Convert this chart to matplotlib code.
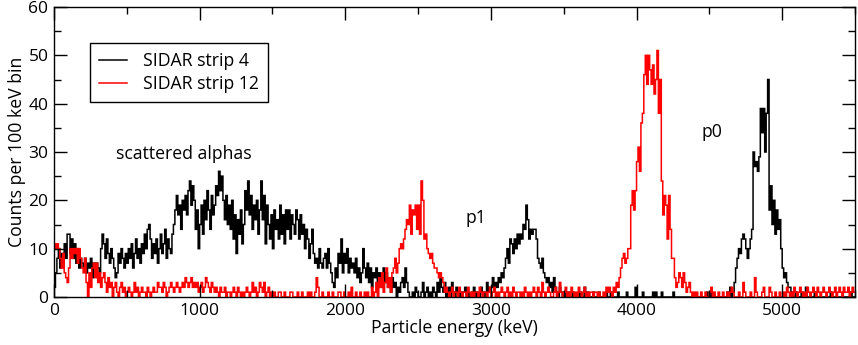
import numpy as np
import matplotlib
matplotlib.use("Agg")
import matplotlib.pyplot as plt
from matplotlib.ticker import MultipleLocator

plt.rcParams['font.family'] = ['Open Sans', 'DejaVu Sans']

bin_width_kev = 10
# SIDAR strip 4 counts, 10 keV bins from 0 to 5500 keV (one row = 100 keV)
strip4_counts = [
    2, 5, 8, 10, 6, 9, 7, 11, 8, 13,
    13, 9, 12, 8, 11, 7, 10, 6, 8, 7,
    6, 8, 5, 7, 6, 8, 4, 7, 6, 7,
    6, 5, 10, 13, 11, 8, 12, 9, 7, 10,
    8, 6, 4, 5, 9, 7, 10, 8, 6, 9,
    7, 10, 8, 11, 6, 9, 12, 8, 10, 7,
    11, 9, 13, 10, 14, 15, 12, 8, 11, 9,
    12, 7, 10, 13, 9, 11, 14, 8, 12, 10,
    9, 13, 15, 18, 21, 17, 19, 14, 20, 18,
    21, 17, 22, 24, 19, 23, 20, 14, 18, 10,
    15, 19, 13, 20, 16, 22, 18, 14, 21, 17,
    19, 23, 21, 26, 22, 25, 20, 16, 21, 15,
    19, 14, 20, 12, 17, 9, 16, 13, 18, 11,
    15, 22, 18, 24, 17, 21, 14, 19, 16, 20,
    13, 18, 24, 16, 21, 11, 19, 15, 12, 17,
    10, 18, 14, 16, 12, 19, 13, 17, 11, 18,
    14, 18, 12, 17, 15, 13, 18, 16, 12, 17,
    13, 15, 10, 14, 12, 8, 11, 14, 9, 7,
    8, 6, 10, 7, 6, 8, 9, 6, 10, 7,
    5, 3, 2, 6, 4, 9, 7, 12, 5, 9,
    7, 10, 5, 8, 6, 7, 5, 8, 4, 6,
    3, 5, 10, 6, 4, 7, 3, 6, 2, 5,
    4, 6, 3, 5, 2, 4, 6, 3, 5, 2,
    3, 1, 4, 2, 3, 0, 2, 1, 3, 4,
    2, 6, 3, 1, 0, 0, 1, 0, 2, 1,
    0, 0, 1, 3, 0, 1, 2, 0, 1, 0,
    2, 1, 0, 3, 1, 4, 2, 1, 3, 0,
    1, 2, 0, 3, 1, 0, 2, 1, 0, 1,
    0, 1, 2, 0, 1, 0, 0, 1, 2, 0,
    1, 0, 0, 2, 1, 0, 1, 3, 1, 2,
    2, 4, 1, 3, 2, 4, 3, 5, 4, 6,
    8, 10, 7, 12, 11, 9, 12, 10, 13, 11,
    13, 12, 15, 14, 19, 16, 12, 14, 13, 14,
    14, 12, 8, 7, 6, 8, 5, 4, 3, 4,
    2, 3, 1, 4, 2, 1, 0, 2, 1, 0,
    1, 0, 0, 1, 0, 0, 1, 0, 0, 0,
    0, 1, 0, 0, 2, 0, 1, 0, 0, 0,
    1, 0, 0, 0, 1, 0, 0, 0, 0, 1,
    0, 0, 1, 0, 0, 0, 0, 1, 0, 0,
    0, 0, 0, 1, 0, 0, 0, 0, 0, 2,
    0, 0, 0, 0, 1, 0, 0, 0, 0, 0,
    0, 1, 0, 1, 0, 0, 0, 1, 0, 0,
    0, 0, 0, 0, 0, 1, 0, 0, 0, 0,
    0, 0, 0, 0, 0, 0, 0, 0, 0, 0,
    0, 0, 0, 0, 0, 0, 0, 0, 1, 0,
    0, 1, 0, 0, 0, 0, 0, 0, 0, 0,
    0, 0, 1, 0, 2, 0, 1, 3, 6, 8,
    10, 9, 12, 13, 12, 10, 8, 10, 12, 14,
    30, 27, 28, 26, 29, 39, 34, 39, 30, 38,
    45, 18, 23, 15, 20, 13, 18, 14, 16, 10,
    6, 4, 5, 3, 2, 2, 1, 0, 0, 1,
    0, 0, 0, 1, 0, 0, 2, 0, 0, 0,
    0, 0, 1, 0, 0, 0, 0, 0, 0, 0,
    0, 0, 0, 1, 0, 0, 0, 0, 0, 0,
    0, 0, 0, 0, 0, 0, 0, 1, 0, 0,
]

# SIDAR strip 12 counts, same binning
strip12_counts = [
    11, 10, 11, 10, 8, 6, 9, 5, 4, 3,
    6, 10, 8, 10, 9, 10, 7, 10, 8, 6,
    5, 8, 3, 0, 5, 2, 6, 7, 4, 7,
    3, 5, 2, 4, 5, 3, 1, 4, 2, 3,
    0, 2, 3, 1, 0, 2, 3, 1, 2, 0,
    1, 2, 1, 0, 1, 3, 1, 2, 0, 1,
    2, 1, 1, 0, 2, 1, 0, 1, 2, 1,
    1, 3, 2, 2, 1, 3, 2, 0, 1, 2,
    3, 2, 1, 2, 3, 2, 1, 2, 3, 2,
    4, 3, 2, 3, 4, 2, 3, 2, 3, 1,
    2, 3, 1, 2, 4, 3, 2, 1, 3, 2,
    1, 2, 1, 0, 2, 1, 1, 2, 0, 1,
    1, 0, 1, 2, 1, 0, 2, 1, 0, 1,
    0, 1, 2, 1, 0, 1, 3, 1, 2, 0,
    1, 3, 2, 1, 3, 0, 1, 2, 0, 1,
    0, 1, 0, 0, 1, 1, 0, 0, 1, 0,
    0, 0, 1, 1, 0, 0, 0, 1, 0, 0,
    1, 0, 0, 0, 1, 0, 1, 0, 0, 1,
    4, 2, 0, 0, 1, 0, 0, 0, 1, 0,
    0, 1, 0, 0, 0, 1, 1, 0, 0, 1,
    0, 0, 1, 0, 2, 0, 0, 1, 0, 0,
    1, 0, 0, 1, 0, 1, 0, 0, 2, 0,
    1, 3, 0, 4, 2, 5, 1, 3, 6, 2,
    4, 1, 5, 6, 8, 5, 7, 10, 11, 10,
    12, 14, 16, 15, 19, 13, 18, 17, 19, 14,
    19, 13, 24, 20, 12, 13, 10, 9, 8, 9,
    7, 6, 6, 5, 4, 5, 4, 3, 1, 2,
    1, 0, 1, 2, 0, 1, 1, 0, 2, 1,
    0, 1, 1, 0, 2, 1, 0, 1, 0, 1,
    1, 0, 2, 1, 0, 1, 1, 0, 1, 2,
    0, 1, 2, 0, 1, 0, 1, 2, 1, 0,
    1, 2, 0, 1, 0, 2, 1, 0, 1, 1,
    0, 1, 0, 2, 1, 0, 1, 0, 1, 2,
    1, 0, 2, 1, 0, 3, 1, 0, 1, 2,
    1, 0, 0, 1, 2, 0, 1, 3, 1, 0,
    1, 2, 0, 1, 0, 2, 1, 0, 1, 0,
    2, 1, 0, 1, 2, 0, 1, 0, 1, 1,
    0, 1, 1, 0, 1, 0, 0, 1, 0, 2,
    1, 2, 1, 0, 2, 1, 3, 2, 4, 6,
    8, 9, 7, 8, 10, 10, 19, 22, 18, 22,
    28, 31, 26, 36, 38, 46, 50, 44, 50, 47,
    44, 48, 42, 45, 51, 38, 45, 24, 17, 21,
    19, 12, 21, 14, 8, 8, 4, 2, 3, 5,
    4, 2, 5, 3, 1, 2, 3, 1, 0, 1,
    0, 1, 0, 0, 1, 0, 0, 1, 0, 0,
    1, 2, 0, 1, 0, 0, 1, 0, 0, 1,
    0, 0, 1, 0, 1, 2, 1, 0, 0, 0,
    1, 0, 0, 3, 1, 0, 0, 0, 1, 0,
    0, 4, 1, 0, 0, 0, 1, 2, 0, 0,
    0, 2, 1, 0, 0, 1, 0, 0, 1, 0,
    0, 1, 0, 2, 1, 0, 1, 0, 2, 1,
    0, 1, 2, 1, 0, 1, 0, 2, 1, 0,
    1, 2, 1, 0, 2, 1, 0, 1, 2, 1,
    0, 1, 2, 1, 0, 1, 2, 0, 1, 2,
    1, 0, 2, 1, 1, 2, 0, 1, 2, 1,
]

series_labels = ["SIDAR strip 4", "SIDAR strip 12"]
series_colors = ["black", "#ff0000"]
annotations = [("scattered alphas", 890, 29.5), ("p1", 2900, 16.3), ("p0", 4520, 34.2)]

edges = np.arange(len(strip4_counts) + 1) * bin_width_kev

fig = plt.figure(figsize=(8.58, 3.45), dpi=100)
ax = fig.add_axes([54 / 858, 1 - 297 / 345, (855 - 54) / 858, (297 - 7) / 345])

for counts, label, color in zip([strip4_counts, strip12_counts], series_labels, series_colors):
    ax.stairs(counts, edges, color=color, lw=1.1, baseline=None, label=label)

ax.set_xlim(0, 5500)
ax.set_ylim(0, 60)
ax.xaxis.set_major_locator(MultipleLocator(1000))
ax.xaxis.set_minor_locator(MultipleLocator(500))
ax.yaxis.set_major_locator(MultipleLocator(10))
ax.yaxis.set_minor_locator(MultipleLocator(5))
ax.tick_params(which='both', direction='in', top=True, right=True, width=1.0, labelsize=12.5)
ax.tick_params(which='major', length=9.5, pad=4)
ax.tick_params(which='minor', length=5)
for s in ax.spines.values():
    s.set_linewidth(1.0)

ax.set_xlabel("Particle energy (keV)", fontsize=12.7, labelpad=0)
ax.set_ylabel("Counts per 100 keV bin", fontsize=12.7, labelpad=2)

for text, x, y in annotations:
    ax.text(x, y, text, fontsize=12.7, ha='center', va='center')

leg = ax.legend(loc='upper left', bbox_to_anchor=((90 - 54) / 801, (297 - 43) / 290),
                borderaxespad=0, fontsize=12.7, fancybox=False, framealpha=1,
                edgecolor='black', handlelength=1.6, handletextpad=0.9,
                labelspacing=0.3, borderpad=0.5)
leg.get_frame().set_linewidth(1.0)

fig.savefig("out.png", dpi=100)
